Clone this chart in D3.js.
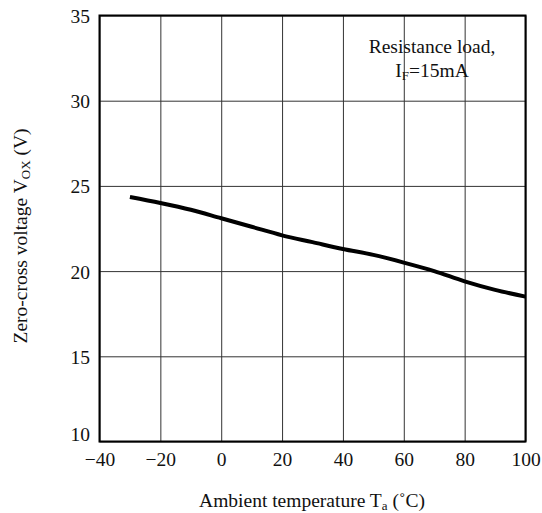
<!DOCTYPE html>
<html>
<head>
<meta charset="utf-8">
<script src="https://cdn.jsdelivr.net/npm/d3@7"></script>
<style>
  body { margin: 0; background: #fff; }
  svg { display: block; }
  text { font-family: "Liberation Serif", "Times New Roman", serif; fill: #111; }
</style>
</head>
<body>
<div id="chart"></div>
<script>
// temperature (°C) and zero-cross voltage (V)
const temps = [-30, -20, -10, 0, 10, 20, 30, 40, 50, 60, 70, 80, 90, 100];
const volts = [24.35, 24.0, 23.6, 23.1, 22.6, 22.1, 21.7, 21.3, 20.95, 20.5, 20.0, 19.4, 18.9, 18.5];

const xTicks = [-40, -20, 0, 20, 40, 60, 80, 100];
const yTicks = [10, 15, 20, 25, 30, 35];

const width = 542, height = 513;
const margin = { left: 99.5, right: 16.5, top: 15.5, bottom: 71.5 };
const plotW = width - margin.left - margin.right;
const plotH = height - margin.top - margin.bottom;
const fontSize = 19.5;

const svg = d3.select('#chart').append('svg')
    .attr('width', width)
    .attr('height', height);

const g = svg.append('g')
    .attr('transform', `translate(${margin.left},${margin.top})`);

const x = d3.scaleLinear().domain([-40, 100]).range([0, plotW]);
const y = d3.scaleLinear().domain([10, 35]).range([plotH, 0]);

// grid + tick labels
const xAxis = d3.axisBottom(x)
    .tickValues(xTicks)
    .tickSizeInner(-plotH)
    .tickSizeOuter(0)
    .tickFormat(d3.format('d'));

const yAxis = d3.axisLeft(y)
    .tickValues(yTicks)
    .tickSizeInner(-plotW)
    .tickSizeOuter(0)
    .tickFormat(d3.format('d'));

const gx = g.append('g')
    .attr('transform', `translate(0,${plotH})`)
    .call(xAxis);
gx.select('.domain').remove();
gx.selectAll('line').attr('stroke', '#333').attr('stroke-width', 1);
gx.selectAll('text')
    .attr('y', 24)
    .attr('dy', null)
    .style('font-size', fontSize + 'px')
    .style('font-family', '"Liberation Serif", serif')
    .attr('fill', '#111');

const gy = g.append('g').call(yAxis);
gy.select('.domain').remove();
gy.selectAll('line').attr('stroke', '#333').attr('stroke-width', 1);
gy.selectAll('text')
    .attr('x', -9.5)
    .attr('dy', d => d === 10 ? '-1' : '7')
    .style('font-size', fontSize + 'px')
    .style('font-family', '"Liberation Serif", serif')
    .attr('fill', '#111');

// frame
g.append('rect')
    .attr('width', plotW)
    .attr('height', plotH)
    .attr('fill', 'none')
    .attr('stroke', '#000')
    .attr('stroke-width', 2);

// curve
const line = d3.line()
    .x((d, i) => x(temps[i]))
    .y(d => y(d))
    .curve(d3.curveMonotoneX);

g.append('path')
    .datum(volts)
    .attr('fill', 'none')
    .attr('stroke', '#000')
    .attr('stroke-width', 4)
    .attr('d', line);

// annotation
const note = svg.append('text')
    .attr('text-anchor', 'middle')
    .style('font-size', fontSize + 'px');
note.append('tspan').attr('x', 432).attr('y', 52.5).text('Resistance load,');
const l2 = note.append('tspan').attr('x', 432).attr('y', 77);
l2.append('tspan').text('I');
l2.append('tspan').attr('dy', 3).style('font-size', '13px').text('F');
l2.append('tspan').attr('dy', -3).text('=15mA');

// x label
const xl = svg.append('text')
    .attr('x', 312)
    .attr('y', 507)
    .attr('text-anchor', 'middle')
    .style('font-size', fontSize + 'px');
xl.append('tspan').text('Ambient temperature T');
xl.append('tspan').attr('dy', 3).style('font-size', '13px').text('a');
xl.append('tspan').attr('dy', -3).text(' (\u02DAC)');

// y label
const yl = svg.append('text')
    .attr('transform', 'translate(26.5,236) rotate(-90)')
    .attr('text-anchor', 'middle')
    .style('font-size', fontSize + 'px');
yl.append('tspan').text('Zero-cross voltage V');
yl.append('tspan').attr('dy', 3).style('font-size', '13px').text('OX');
yl.append('tspan').attr('dy', -3).text(' (V)');
</script>
</body>
</html>
